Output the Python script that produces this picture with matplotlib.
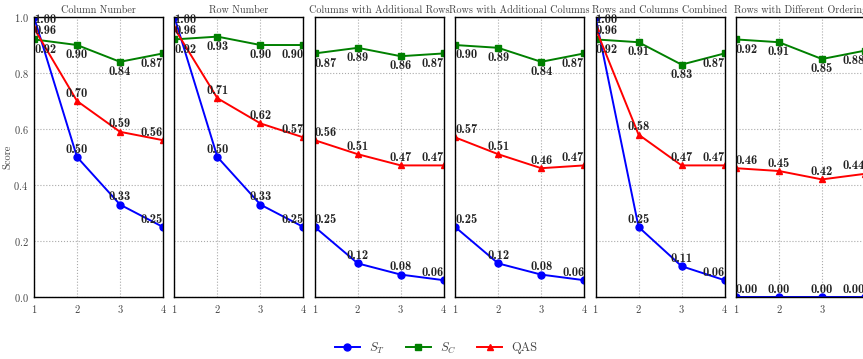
import numpy as np
import matplotlib
matplotlib.use("Agg")
import matplotlib.pyplot as plt

plt.rcParams["font.family"] = ["cmr10", "DejaVu Serif"]
plt.rcParams["mathtext.fontset"] = "cm"
plt.rcParams["axes.formatter.use_mathtext"] = True

x = [1, 2, 3, 4]
titles = ["Column Number", "Row Number", "Columns with Additional Rows",
          "Rows with Additional Columns", "Rows and Columns Combined",
          "Rows with Different Ordering"]

# one row per panel
s_t = [[1.00, 0.50, 0.33, 0.25],
       [1.00, 0.50, 0.33, 0.25],
       [0.25, 0.12, 0.08, 0.06],
       [0.25, 0.12, 0.08, 0.06],
       [1.00, 0.25, 0.11, 0.06],
       [0.00, 0.00, 0.00, 0.00]]
s_c = [[0.92, 0.90, 0.84, 0.87],
       [0.92, 0.93, 0.90, 0.90],
       [0.87, 0.89, 0.86, 0.87],
       [0.90, 0.89, 0.84, 0.87],
       [0.92, 0.91, 0.83, 0.87],
       [0.92, 0.91, 0.85, 0.88]]
qas = [[0.96, 0.70, 0.59, 0.56],
       [0.96, 0.71, 0.62, 0.57],
       [0.56, 0.51, 0.47, 0.47],
       [0.57, 0.51, 0.46, 0.47],
       [0.96, 0.58, 0.47, 0.47],
       [0.46, 0.45, 0.42, 0.44]]

series = [(s_t, "$S_T$", "blue", "o", "above"),
          (s_c, "$S_C$", "green", "s", "below"),
          (qas, "QAS", "red", "^", "above")]

fig, axes = plt.subplots(1, 6, sharey=True, figsize=(8.63, 3.59), dpi=100)
fig.subplots_adjust(left=0.0394, right=1.0023, bottom=0.1727, top=0.9526, wspace=0.088)

for i, ax in enumerate(axes):
    for data, label, color, marker, side in series:
        ys = data[i]
        ax.plot(x, ys, color=color, marker=marker, markersize=5, linewidth=1.4, label=label)
        for j, (xv, yv) in enumerate(zip(x, ys)):
            ha = "left" if j == 0 else ("right" if j == len(x) - 1 else "center")
            if side == "below":
                dy, va = -3, "top"
            elif yv >= 0.95:
                dy, va = -2, "center"
            else:
                dy, va = 1, "bottom"
            ax.annotate(f"{yv:.2f}", (xv, yv), xytext=(0, dy), textcoords="offset points",
                        ha=ha, va=va, fontsize=9, family="cmb10", color="#222222")
    ax.set_xlim(1, 4)
    ax.set_ylim(0, 1.0)
    ax.set_xticks(x)
    ax.set_yticks(np.arange(0, 1.01, 0.2))
    ax.grid(True, linestyle=":", color="#aaaaaa", linewidth=0.8)
    ax.tick_params(length=0, labelsize=7.5, labelcolor="#444444", pad=4)
    ax.set_title(titles[i], fontsize=7.3, color="#444444", pad=3)
    for sp in ax.spines.values():
        sp.set_color("black")
        sp.set_linewidth(1.0)

axes[0].set_ylabel("Score", fontsize=7.5, color="#444444", labelpad=1)

handles, labels = axes[0].get_legend_handles_labels()
fig.legend(handles, labels, loc="center", bbox_to_anchor=(436 / 863, 1 - 348 / 359),
           ncol=3, frameon=False, fontsize=9, handlelength=2.0, handletextpad=0.7,
           columnspacing=1.7, labelcolor="#444444")

fig.savefig("out.png", dpi=100)
